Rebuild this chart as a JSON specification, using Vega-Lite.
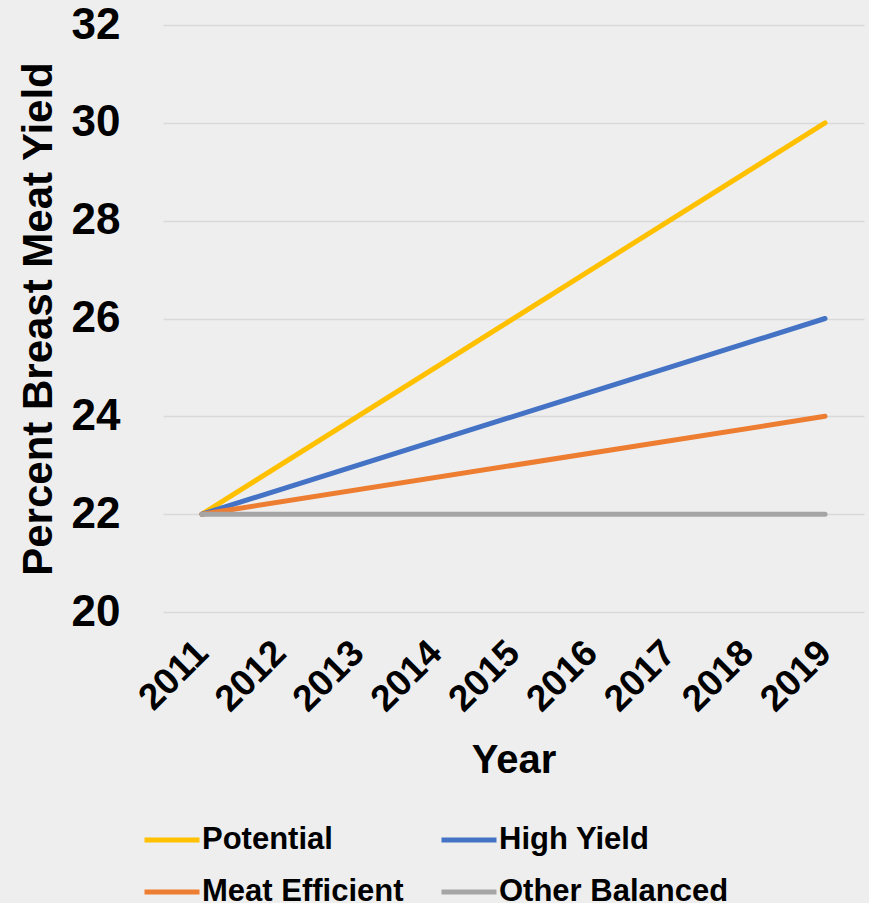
{
  "$schema": "https://vega.github.io/schema/vega-lite/v6.json",
  "width": 701,
  "height": 587,
  "autosize": "none",
  "padding": {"left": 163, "top": 25, "right": 5, "bottom": 291},
  "background": "#eeeeef",
  "config": {
    "view": {"stroke": null},
    "font": "Liberation Sans"
  },
  "data": {
    "values": [
      {"Year": "2011", "Series": "Potential", "Value": 22},
      {"Year": "2019", "Series": "Potential", "Value": 30},
      {"Year": "2011", "Series": "High Yield", "Value": 22},
      {"Year": "2019", "Series": "High Yield", "Value": 26},
      {"Year": "2011", "Series": "Meat Efficient", "Value": 22},
      {"Year": "2019", "Series": "Meat Efficient", "Value": 24},
      {"Year": "2011", "Series": "Other Balanced", "Value": 22},
      {"Year": "2019", "Series": "Other Balanced", "Value": 22}
    ]
  },
  "mark": {"type": "line", "strokeWidth": 5, "strokeCap": "round"},
  "encoding": {
    "x": {
      "field": "Year",
      "type": "ordinal",
      "scale": {"type": "point", "padding": 0.5, "domain": ["2011","2012","2013","2014","2015","2016","2017","2018","2019"]},
      "axis": {
        "title": "Year",
        "titleFontSize": 40,
        "titleFontWeight": "bold",
        "titleColor": "#000000",
        "titleBaseline": "alphabetic",
        "titleY": 160,
        "labelAngle": -45,
        "labelAlign": "right",
        "labelBaseline": "middle",
        "labelFontSize": 37,
        "labelFontWeight": "bold",
        "labelColor": "#000000",
        "labelPadding": 35,
        "labelOffset": 0,
        "domain": false,
        "ticks": false,
        "grid": false
      }
    },
    "y": {
      "field": "Value",
      "type": "quantitative",
      "scale": {"domain": [20, 32], "nice": false, "zero": false},
      "axis": {
        "title": "Percent Breast Meat Yield",
        "titleFontSize": 42,
        "titleFontWeight": "bold",
        "titleColor": "#000000",
        "titleBaseline": "alphabetic",
        "titleX": -112,
        "titleY": 293.5,
        "values": [20, 22, 24, 26, 28, 30, 32],
        "labelFontSize": 44,
        "labelFontWeight": "bold",
        "labelColor": "#000000",
        "labelPadding": 43,
        "domain": false,
        "ticks": false,
        "grid": true,
        "gridColor": "#d9d9d9",
        "gridWidth": 1.5
      }
    },
    "color": {
      "field": "Series",
      "type": "nominal",
      "scale": {
        "domain": ["Potential", "High Yield", "Meat Efficient", "Other Balanced"],
        "range": ["#FFC000", "#4472C4", "#ED7D31", "#A5A5A5"]
      },
      "legend": {
        "title": null,
        "orient": "none",
        "direction": "horizontal",
        "legendX": -21,
        "legendY": 785,
        "columns": 2,
        "symbolType": "stroke",
        "symbolSize": 3025,
        "symbolStrokeWidth": 5,
        "labelFontSize": 31,
        "labelFontWeight": "bold",
        "labelColor": "#000000",
        "labelLimit": 400,
        "labelOffset": 0,
        "columnPadding": 27,
        "rowPadding": 7
      }
    }
  }
}
